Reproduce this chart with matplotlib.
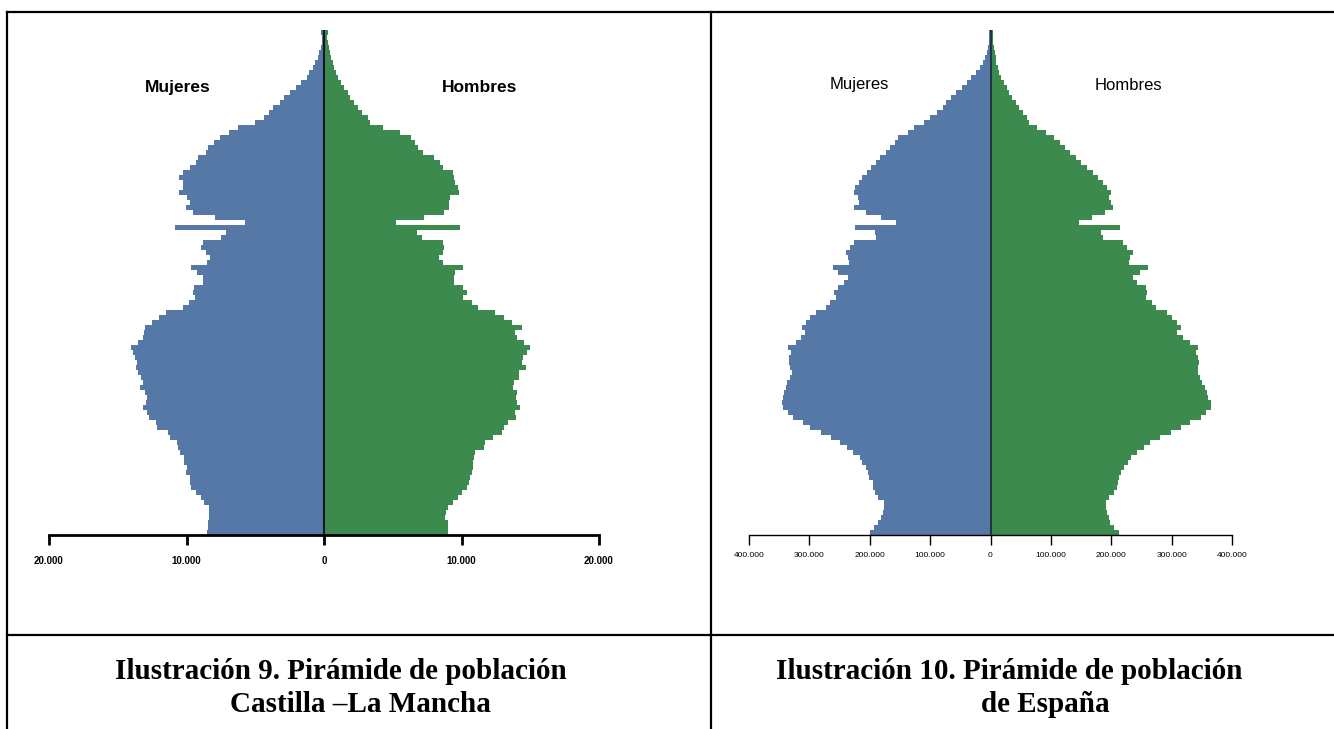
import numpy as np
import matplotlib
matplotlib.use("Agg")
import matplotlib.pyplot as plt
from matplotlib.lines import Line2D
from matplotlib.ticker import FuncFormatter

# edades de 100 (arriba) a 0 (abajo)
ages = np.arange(100, -1, -1)

# Castilla-La Mancha, miles de personas
clm_mujeres = [
    0.19, 0.15, 0.17, 0.22, 0.34, 0.46, 0.63, 0.78, 1.07, 1.24,
    1.67, 2.01, 2.45, 2.88, 3.17, 3.68, 3.97, 4.34, 4.99, 6.23,
    6.88, 7.56, 7.97, 8.41, 8.58, 9.13, 9.30, 9.71, 10.22, 10.51,
    10.22, 10.22, 10.51, 9.96, 9.74, 10.03, 9.52, 7.92, 5.72, 10.83,
    7.10, 7.49, 8.77, 8.94, 8.58, 8.28, 8.50, 9.67, 9.23, 8.82,
    8.82, 9.42, 9.50, 9.38, 9.79, 10.22, 11.48, 11.97, 12.50, 13.05,
    13.10, 13.20, 13.50, 14.05, 13.90, 13.75, 13.60, 13.70, 13.50, 13.30,
    13.20, 13.40, 13.00, 12.90, 12.95, 13.20, 12.90, 12.75, 12.21, 12.14,
    11.36, 11.19, 10.68, 10.59, 10.44, 10.15, 10.15, 9.96, 10.03, 9.71,
    9.74, 9.67, 9.30, 8.94, 8.70, 8.33, 8.33, 8.38, 8.41, 8.45,
    8.50]
clm_hombres = [
    0.27, 0.22, 0.27, 0.34, 0.41, 0.51, 0.63, 0.70, 0.87, 0.99,
    1.24, 1.43, 1.72, 1.89, 2.20, 2.45, 2.74, 3.17, 3.32, 4.31,
    5.50, 6.32, 6.61, 6.81, 7.17, 7.97, 8.45, 8.62, 9.35, 9.47,
    9.52, 9.71, 9.84, 9.16, 9.06, 9.06, 8.75, 7.29, 5.23, 9.91,
    6.76, 7.10, 8.67, 8.75, 8.62, 8.38, 8.67, 10.08, 9.54, 9.47,
    9.42, 10.13, 10.39, 10.13, 10.76, 11.17, 12.45, 13.11, 13.64, 14.39,
    13.90, 14.00, 14.56, 15.00, 14.73, 14.49, 14.37, 14.68, 14.20, 14.15,
    13.83, 13.71, 14.03, 13.95, 14.07, 14.24, 13.90, 13.95, 13.40, 13.11,
    12.94, 12.26, 11.70, 11.60, 10.97, 10.88, 10.80, 10.80, 10.73, 10.63,
    10.56, 10.39, 10.03, 9.71, 9.35, 8.99, 8.87, 8.79, 8.99, 9.04,
    9.04]

# Espana, miles de personas
esp_mujeres = [
    2.8, 1.7, 2.8, 3.9, 6.1, 9.4, 13.2, 18.2, 24.3, 32.5,
    38.1, 47.4, 57.4, 65.6, 73.4, 79.4, 88.8, 99.8, 109.8, 127.4,
    137.3, 152.8, 158.3, 167.1, 173.2, 183.1, 189.8, 198.0, 204.6, 212.9,
    217.3, 224.0, 225.6, 220.1, 218.4, 225.6, 206.3, 181.5, 157.2, 224.0,
    190.9, 189.8, 225.6, 232.2, 239.4, 235.5, 233.9, 261.5, 252.1, 235.5,
    243.3, 252.1, 258.7, 255.9, 265.9, 272.5, 289.0, 298.4, 305.6, 312.8,
    307.2, 313.9, 322.1, 335.9, 330.4, 333.2, 333.2, 331.5, 328.8, 331.5,
    337.6, 338.7, 341.4, 343.1, 345.3, 344.2, 335.9, 327.7, 311.1, 298.4,
    280.8, 264.2, 249.3, 238.3, 228.4, 216.2, 213.5, 206.3, 202.4, 200.8,
    195.3, 194.7, 190.9, 187.0, 177.1, 177.1, 178.7, 181.5, 185.9, 192.5,
    199.1]
esp_hombres = [
    4.4, 3.9, 4.4, 5.5, 7.2, 8.8, 9.9, 12.1, 14.9, 18.2,
    22.6, 27.0, 31.4, 36.4, 41.9, 47.4, 54.6, 61.2, 64.0, 77.8,
    92.7, 105.4, 114.7, 123.0, 131.8, 141.2, 149.5, 160.5, 169.9, 178.7,
    186.4, 193.6, 200.2, 196.9, 199.1, 203.0, 189.8, 167.7, 146.7, 214.0,
    182.6, 186.4, 219.5, 226.7, 236.1, 230.6, 229.5, 260.9, 247.7, 236.1,
    243.3, 257.0, 259.8, 258.1, 268.1, 274.7, 291.8, 300.1, 308.3, 316.1,
    309.4, 319.4, 329.9, 343.1, 339.8, 344.2, 345.3, 343.1, 343.6, 347.0,
    350.8, 354.7, 358.0, 360.2, 364.6, 364.6, 356.3, 348.1, 329.9, 315.0,
    298.4, 280.2, 263.7, 254.3, 243.3, 232.2, 228.4, 221.2, 215.7, 212.9,
    211.3, 209.1, 204.6, 196.4, 192.0, 190.9, 192.5, 196.4, 198.0, 204.6,
    212.9]

clm_ticks = [-20000, -10000, 0, 10000, 20000]
esp_ticks = [-400000, -300000, -200000, -100000, 0, 100000, 200000, 300000, 400000]

caption_9 = ["Ilustración 9. Pirámide de población", "Castilla –La Mancha"]
caption_10 = ["Ilustración 10. Pirámide de población", "de España"]

AZUL = "#5578a6"
VERDE = "#3d8a4e"
W, H = 1334, 729

fmt = FuncFormatter(lambda v, p: "0" if v == 0 else "{:,}".format(abs(int(v))).replace(",", "."))
sans = ["Liberation Sans", "DejaVu Sans"]


def piramide(rect, mujeres, hombres, ticks, lim, bold, spine_w, line_col, pad, lsize):
    ax = fig.add_axes(rect)
    ax.barh(ages, -np.array(mujeres) * 1000, height=1.0, color=AZUL, linewidth=0)
    ax.barh(ages, np.array(hombres) * 1000, height=1.0, color=VERDE, linewidth=0)
    ax.axvline(0, color=line_col, lw=1.5, zorder=3)
    ax.set_xlim(-lim, lim)
    ax.set_ylim(-0.5, 100.5)
    for s in ["left", "right", "top"]:
        ax.spines[s].set_visible(False)
    ax.spines["bottom"].set_linewidth(spine_w)
    ax.spines["bottom"].set_color("black")
    ax.set_yticks([])
    ax.set_xticks(ticks)
    ax.xaxis.set_major_formatter(fmt)
    ax.tick_params(axis="x", length=7, width=spine_w, pad=pad, labelsize=lsize)
    for t in ax.get_xticklabels():
        t.set_family(sans)
        if bold:
            t.set_fontweight("bold")
    return ax


fig = plt.figure(figsize=(W / 100, H / 100), dpi=100)

ax1 = piramide([49 / W, (H - 535) / H, 550 / W, 505 / H],
               clm_mujeres, clm_hombres, clm_ticks, 20000, True, 2.0, "#111820", 8, 7)
ax1.text(-10600, 89, "Mujeres", ha="center", va="center", fontsize=12.5,
         family=sans, fontweight="bold")
ax1.text(11340, 89, "Hombres", ha="center", va="center", fontsize=12.5,
         family=sans, fontweight="bold")

ax2 = piramide([749 / W, (H - 535) / H, 483 / W, 505 / H],
               esp_mujeres, esp_hombres, esp_ticks, 400000, False, 1.0, "#243340", 5, 6)
ax2.text(-217000, 89.5, "Mujeres", ha="center", va="center", fontsize=12, family=sans)
ax2.text(228000, 89.5, "Hombres", ha="center", va="center", fontsize=12, family=sans)

# pies de figura
cap = dict(ha="center", va="baseline", fontsize=21, fontweight="bold",
           family=["Liberation Serif", "DejaVu Serif"])
fig.text(341 / W, 1 - 679 / H, caption_9[0], **cap)
fig.text(360 / W, 1 - 712 / H, caption_9[1], **cap)
fig.text(1009 / W, 1 - 679 / H, caption_10[0], **cap)
fig.text(1045 / W, 1 - 712 / H, caption_10[1], **cap)

# lineas de la tabla
lk = dict(color="black", lw=1.6, transform=fig.transFigure)
fig.add_artist(Line2D([7 / W, 1], [1 - 12 / H, 1 - 12 / H], **lk))
fig.add_artist(Line2D([7 / W, 1], [1 - 635 / H, 1 - 635 / H], **lk))
fig.add_artist(Line2D([7 / W, 7 / W], [0, 1 - 12 / H], **lk))
fig.add_artist(Line2D([711 / W, 711 / W], [0, 1 - 12 / H], **lk))

fig.savefig("out.png", dpi=100)
